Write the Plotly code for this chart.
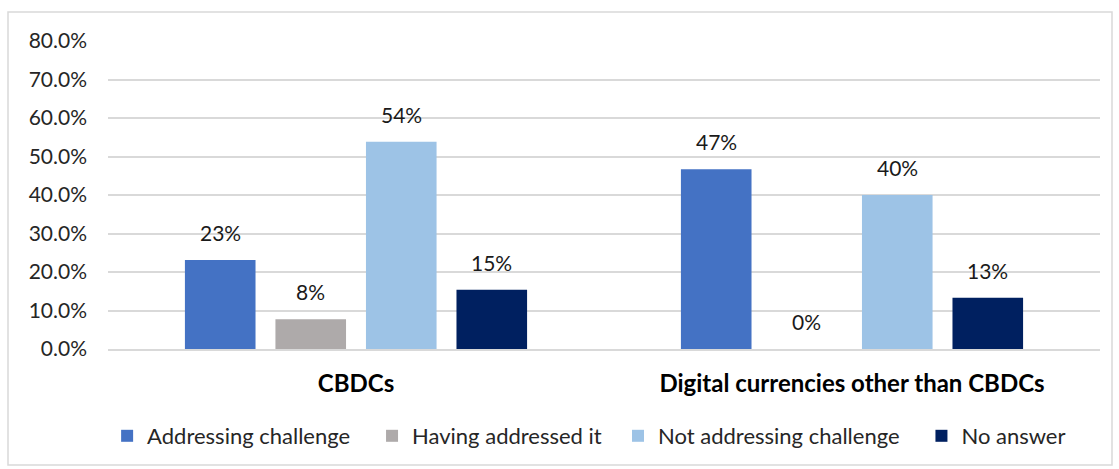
import plotly.graph_objects as go

categories = ["CBDCs", "Digital currencies other than CBDCs"]
series_names = ["Addressing challenge", "Having addressed it", "Not addressing challenge", "No answer"]
addressing = [0.231, 0.467]
addressed = [0.077, 0.0]
not_addressing = [0.538, 0.400]
no_answer = [0.154, 0.133]
y_ticks = [0, 0.1, 0.2, 0.3, 0.4, 0.5, 0.6, 0.7, 0.8]

colors = ["#4472C4", "#AEAAAA", "#9DC3E6", "#002060"]
series_values = [addressing, addressed, not_addressing, no_answer]
legend_pads = [3, 2, 3, 0]

FONT = "Lato, Carlito, Calibri, sans-serif"
W, H = 1119, 469
ML, MR, MT, MB = 108, 19, 41, 120
plot_w = W - ML - MR
plot_h = H - MT - MB
bargap = 0.27

fig = go.Figure()
for name, vals, col, pad in zip(series_names, series_values, colors, legend_pads):
    fig.add_trace(go.Bar(name=name + "\u00a0" * pad, x=categories, y=vals,
                         marker=dict(color=col, line=dict(width=0))))

# data labels above bars
slot = plot_w / len(categories) * (1 - bargap) / len(series_names)
for i, vals in enumerate(series_values):
    for c, v in zip(categories, vals):
        fig.add_annotation(x=c, y=v, text=f"{round(v*100):.0f}%", showarrow=False,
                           xshift=(i - 1.5) * slot, yanchor="bottom", yshift=13,
                           font=dict(family=FONT, size=21, color="#1a1a1a"))

# outer chart border
fig.add_shape(type="rect", xref="paper", yref="paper",
              x0=(8 - ML) / plot_w, x1=(1112 - ML) / plot_w,
              y0=(H - MB - 465) / plot_h, y1=(H - MB - 12) / plot_h,
              line=dict(color="#D9D9D9", width=1.5), fillcolor="rgba(0,0,0,0)", layer="below")

fig.update_layout(
    width=W, height=H,
    margin=dict(l=ML, r=MR, t=MT, b=MB, autoexpand=False),
    paper_bgcolor="white", plot_bgcolor="white",
    barmode="group", bargap=bargap, bargroupgap=0.22,
    font=dict(family=FONT, size=21, color="#262626"),
    showlegend=True,
    legend=dict(orientation="h", x=0.485, xanchor="center", y=(349 - 436) / plot_h, yanchor="middle",
                font=dict(family=FONT, size=22, color="#262626"), itemwidth=30, traceorder="normal"),
    xaxis=dict(showgrid=False, showline=True, linecolor="#D9D9D9", linewidth=1.5, ticks="",
               automargin=False,
               tickfont=dict(family=FONT, size=24, color="#000000"), ticklabelstandoff=12,
               tickvals=categories, ticktext=[f"<b>{c}</b>" for c in categories]),
    yaxis=dict(range=[0, 0.8], tickvals=y_ticks, tickformat=".1%", showgrid=True, automargin=False,
               gridcolor="#D9D9D9", gridwidth=1.5, zeroline=False, showline=False,
               tickfont=dict(family=FONT, size=21, color="#262626"), ticklabelstandoff=20),
)

fig.write_html("out.html", config={"displayModeBar": False},
               post_script="document.body.style.margin='0px';")
